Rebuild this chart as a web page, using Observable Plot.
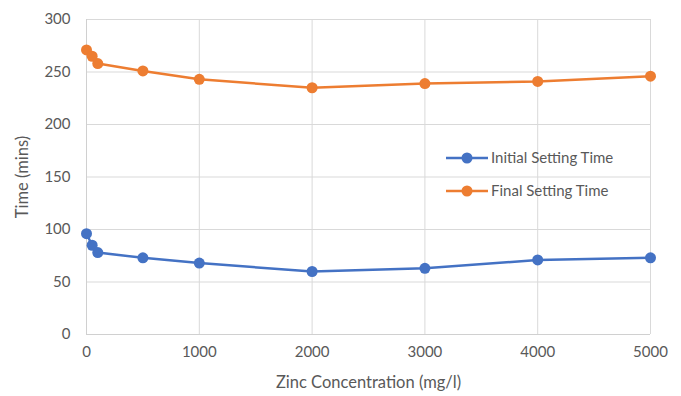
<!DOCTYPE html>
<html><head><meta charset="utf-8">
<script src="https://cdn.jsdelivr.net/npm/d3@7"></script>
<script src="https://cdn.jsdelivr.net/npm/@observablehq/plot@0.6"></script>
<style>
body{margin:0;background:#fff;font-family:Lato,"Open Sans",sans-serif;}
#wrap{position:relative;width:681px;height:396px;}
#legend{position:absolute;left:446px;top:141px;font-size:15px;color:#595959;line-height:33px;}
#legend .it{display:flex;align-items:center;}
#legend svg{margin-right:3px;}
</style></head><body>
<div id="wrap"><div id="chart"></div><div id="legend"></div></div>
<script>
const concentration = [0, 50, 100, 500, 1000, 2000, 3000, 4000, 5000];
const initialSetting = [96, 85, 78, 73, 68, 60, 63, 71, 73];
const finalSetting = [271, 265, 258, 251, 243, 235, 239, 241, 246];
const seriesNames = ["Initial Setting Time", "Final Setting Time"];
const seriesColors = ["#4472C4", "#ED7D31"];
const xTicks = [0, 1000, 2000, 3000, 4000, 5000];
const yTicks = [0, 50, 100, 150, 200, 250, 300];
const xTitle = "Zinc Concentration (mg/l)";
const yTitle = "Time (mins)";

const data = [];
concentration.forEach((c, i) => {
  data.push({x: c, y: initialSetting[i], s: seriesNames[0]});
  data.push({x: c, y: finalSetting[i], s: seriesNames[1]});
});

const chart = Plot.plot({
  width: 681, height: 396,
  marginLeft: 86, marginRight: 31, marginTop: 19, marginBottom: 62,
  style: {fontFamily: "Lato, 'Open Sans', sans-serif", fontSize: "15px", color: "#595959", background: "#fff"},
  x: {domain: [0, 5000]},
  y: {domain: [0, 300]},
  color: {domain: seriesNames, range: seriesColors},
  marks: [
    Plot.gridY(yTicks, {stroke: "#d9d9d9", strokeOpacity: 1}),
    Plot.gridX(xTicks, {stroke: "#d9d9d9", strokeOpacity: 1}),
    Plot.ruleY([0], {stroke: "#d0d0d0"}),
    Plot.ruleX([0], {stroke: "#d0d0d0"}),
    Plot.axisX({ticks: xTicks, tickSize: 0, tickPadding: 12, fontSize: 15, label: null, tickFormat: d => String(d), fill: "#595959"}),
    Plot.axisY({ticks: yTicks, tickSize: 0, tickPadding: 16, fontSize: 15, label: null, fill: "#595959"}),
    Plot.text([xTitle], {frameAnchor: "bottom", dy: 53, fontSize: 16.5, fill: "#595959"}),
    Plot.text([yTitle], {frameAnchor: "left", textAnchor: "middle", dx: -64, rotate: -90, fontSize: 16.5, fill: "#595959"}),
    Plot.line(data, {x: "x", y: "y", stroke: "s", strokeWidth: 2.5}),
    Plot.dot(data, {x: "x", y: "y", fill: "s", r: 5.5, stroke: "none"})
  ]
});
document.getElementById("chart").appendChild(chart);

const lg = document.getElementById("legend");
seriesNames.forEach((n, i) => {
  const d = document.createElement("div");
  d.className = "it";
  d.innerHTML = `<svg width="42" height="14"><line x1="0" y1="7" x2="42" y2="7" stroke="${seriesColors[i]}" stroke-width="2.5"/><circle cx="21" cy="7" r="5.5" fill="${seriesColors[i]}"/></svg><span>${n}</span>`;
  lg.appendChild(d);
});
</script>
</body></html>
